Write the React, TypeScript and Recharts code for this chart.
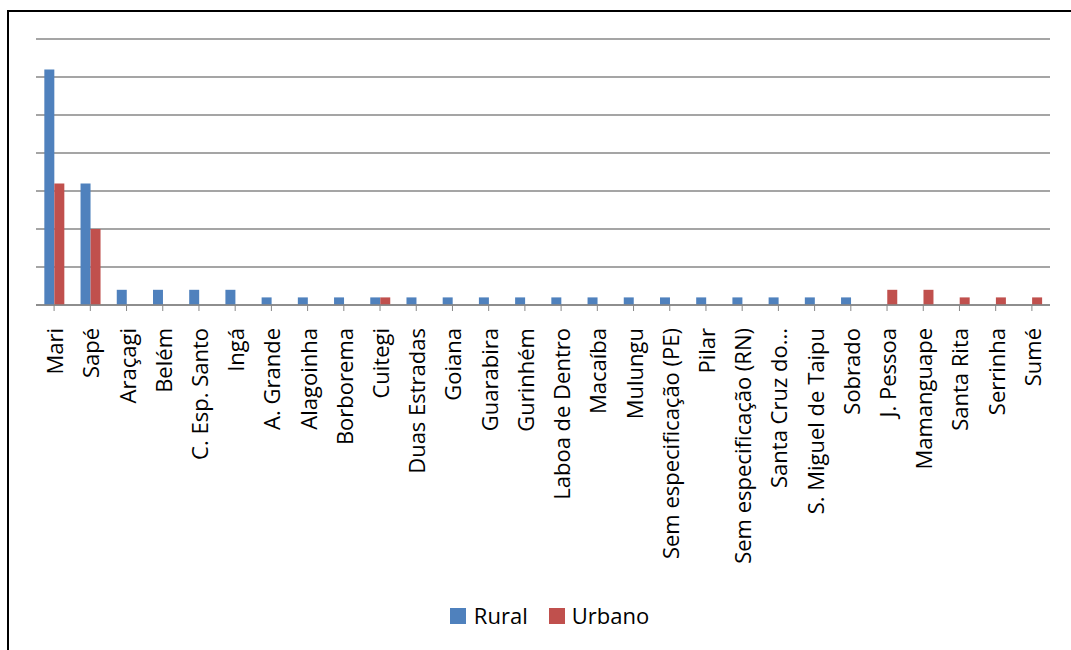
import React from "react";
import { BarChart, Bar, XAxis, YAxis, CartesianGrid, Legend } from "recharts";

const categories = [
  "Mari", "Sapé", "Araçagi", "Belém", "C. Esp. Santo", "Ingá", "A. Grande", "Alagoinha",
  "Borborema", "Cuitegi", "Duas Estradas", "Goiana", "Guarabira", "Gurinhém",
  "Laboa de Dentro", "Macaíba", "Mulungu", "Sem especificação (PE)", "Pilar",
  "Sem especificação (RN)", "Santa Cruz do...", "S. Miguel de Taipu", "Sobrado",
  "J. Pessoa", "Mamanguape", "Santa Rita", "Serrinha", "Sumé",
];
const rural = [31, 16, 2, 2, 2, 2, 1, 1, 1, 1, 1, 1, 1, 1, 1, 1, 1, 1, 1, 1, 1, 1, 1, 0, 0, 0, 0, 0];
const urbano = [16, 10, 0, 0, 0, 0, 0, 0, 0, 1, 0, 0, 0, 0, 0, 0, 0, 0, 0, 0, 0, 0, 0, 2, 2, 1, 1, 1];
const yTicks = [0, 5, 10, 15, 20, 25, 30, 35];

const data = categories.map((name, i) => ({ name, Rural: rural[i], Urbano: urbano[i] }));

const FONT = "'Open Sans', 'Noto Sans', sans-serif";

const Tick = (props: any) => {
  const { x, y, payload } = props;
  const ty = y + 15;
  return (
    <text
      x={x}
      y={ty}
      transform={`rotate(-90, ${x}, ${ty})`}
      textAnchor="end"
      dominantBaseline="central"
      fontFamily={FONT}
      fontSize={22}
      fill="#000"
    >
      {payload.value}
    </text>
  );
};

const LegendContent = () => (
  <div style={{ height: 23, lineHeight: "23px", display: "flex", justifyContent: "center", alignItems: "center", fontFamily: FONT, fontSize: 22, color: "#000" }}>
    <span style={{ display: "inline-block", width: 16, height: 16, background: "#4F81BD", marginRight: 8 }} />
    <span style={{ marginRight: 21 }}>Rural</span>
    <span style={{ display: "inline-block", width: 16, height: 16, background: "#C0504D", marginRight: 7 }} />
    <span>Urbano</span>
  </div>
);

export default function App() {
  return (
    <div style={{ position: "absolute", left: 0, top: 0, width: 1071, height: 650, overflow: "hidden", background: "#fff" }}>
      <div style={{ position: "absolute", left: 7, top: 10, width: 1200, height: 800, border: "2px solid #000", boxSizing: "border-box" }} />
      <div style={{ position: "absolute", left: 0, top: 0 }}>
        <BarChart
          width={1071}
          height={650}
          data={data}
          margin={{ top: 39, right: 21, left: 36, bottom: 0 }}
          barCategoryGap="23%"
          barGap={0}
        >
          <CartesianGrid horizontal vertical={false} stroke="#878787" strokeWidth={1.7} />
          <YAxis hide domain={[0, 35]} ticks={yTicks} width={0} />
          <XAxis
            dataKey="name"
            interval={0}
            height={322}
            tick={<Tick />}
            tickLine={{ stroke: "#878787" }}
            tickSize={6}
            axisLine={{ stroke: "#878787", strokeWidth: 1.7 }}
          />
          <Legend
            content={<LegendContent />}
            wrapperStyle={{ position: "absolute", top: 604, left: 14, width: 1071 }}
          />
          <Bar dataKey="Rural" fill="#4F81BD" isAnimationActive={false} />
          <Bar dataKey="Urbano" fill="#C0504D" isAnimationActive={false} />
        </BarChart>
      </div>
    </div>
  );
}
